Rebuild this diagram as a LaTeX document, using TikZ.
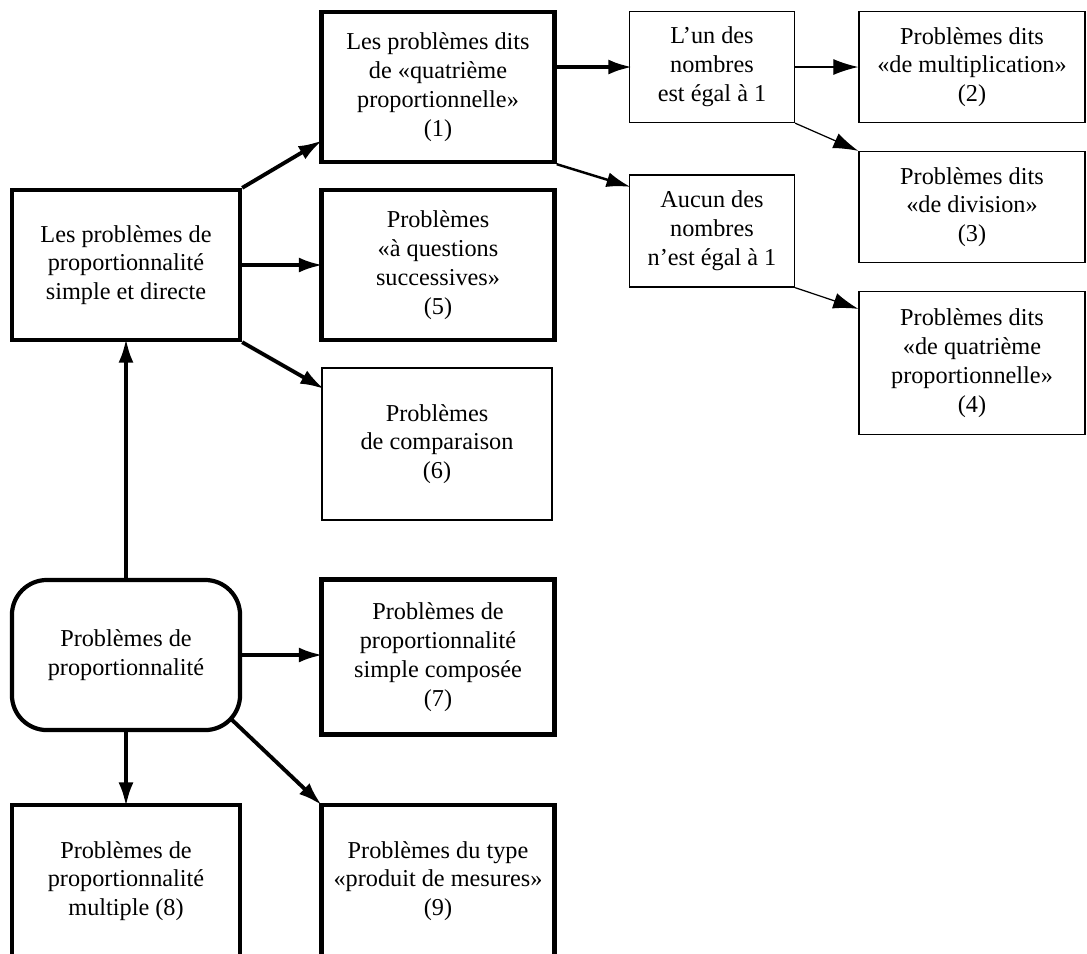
\documentclass[tikz,border=0pt]{standalone}
\usepackage{fontspec}
\setmainfont{Liberation Serif}
\usetikzlibrary{arrows.meta}
\begin{document}
\begin{tikzpicture}[x=0.01cm, y=-0.01cm,
    every node/.style={font=\fontsize{6.9}{8.2}\selectfont, align=center, inner sep=0pt},
    heavybox/.style={draw, line width=1.2pt},
    lightbox/.style={draw, line width=0.35pt},
    heavyarrow/.style={line width=1.1pt, shorten >=-1pt, -{Latex[length=0.24cm, width=0.15cm]}},
    midarrow/.style={line width=0.7pt, shorten >=-0.5pt, -{Latex[length=0.24cm, width=0.15cm]}},
    lightarrow/.style={line width=0.35pt, -{Latex[length=0.25cm, width=0.16cm]}}]
    \useasboundingbox (0,0) rectangle (1087,953);

    % left column
    \node [heavybox, minimum width=2.28cm, minimum height=1.5cm] (direct) at (126,265)
        {Les problèmes de\\proportionnalité\\simple et directe};
    \node [heavybox, rounded corners=0.35cm, minimum width=2.28cm, minimum height=1.5cm] (prop) at (126,655)
        {Problèmes de\\proportionnalité};
    \node [heavybox, minimum width=2.28cm, minimum height=1.52cm] (multiple) at (126,881)
        {Problèmes de\\proportionnalité\\multiple (8)};

    % middle column
    \node [heavybox, minimum width=2.33cm, minimum height=1.5cm] (quatre) at (438,87)
        {Les problèmes dits\\de «quatrième\\proportionnelle»\\(1)};
    \node [heavybox, minimum width=2.33cm, minimum height=1.5cm] (succ) at (438,265)
        {Problèmes\\«à questions\\successives»\\(5)};
    \node [lightbox, minimum width=2.3cm, minimum height=1.52cm] (compar) at (437,444)
        {Problèmes\\de comparaison\\(6)};
    \node [heavybox, minimum width=2.33cm, minimum height=1.55cm] (compose) at (438,657)
        {Problèmes de\\proportionnalité\\simple composée\\(7)};
    \node [heavybox, minimum width=2.33cm, minimum height=1.52cm] (mesures) at (438,881)
        {Problèmes du type\\«produit de mesures»\\(9)};

    % cases
    \node [lightbox, minimum width=1.65cm, minimum height=1.11cm] (unegal) at (712,67)
        {L’un des\\nombres\\est égal à 1};
    \node [lightbox, minimum width=1.65cm, minimum height=1.12cm] (aucun) at (712,231)
        {Aucun des\\nombres\\n’est égal à 1};

    % right column
    \node [lightbox, minimum width=2.26cm, minimum height=1.11cm] (multi) at (972,67)
        {Problèmes dits\\«de multiplication»\\(2)};
    \node [lightbox, minimum width=2.26cm, minimum height=1.11cm] (divis) at (972,207)
        {Problèmes dits\\«de division»\\(3)};
    \node [lightbox, minimum width=2.26cm, minimum height=1.43cm] (quatrebis) at (972,363)
        {Problèmes dits\\«de quatrième\\proportionnelle»\\(4)};

    \draw [heavyarrow] (prop) -- (direct);
    \draw [heavyarrow] (prop.east) -- (prop.east -| compose.west);
    \draw [heavyarrow] (prop) -- (multiple);
    \draw [heavyarrow] ([xshift=-0.12cm, yshift=0.14cm]prop.south east) -- (mesures.north west);

    \draw [heavyarrow] (direct.north east) -- ([yshift=0.22cm]quatre.south west);
    \draw [heavyarrow] (direct) -- (succ);
    \draw [heavyarrow] (direct.south east) -- ([yshift=-0.2cm]compar.north west);

    \draw [heavyarrow] (quatre.east |- unegal) -- (unegal);
    \draw [midarrow] (quatre.south east) -- ([yshift=-0.12cm]aucun.north west);

    \draw [lightarrow] (unegal) -- (multi);
    \draw [lightarrow] (unegal.south east) -- (divis.north west);
    \draw [lightarrow] (aucun.south east) -- ([yshift=-0.18cm]quatrebis.north west);
\end{tikzpicture}
\end{document}
